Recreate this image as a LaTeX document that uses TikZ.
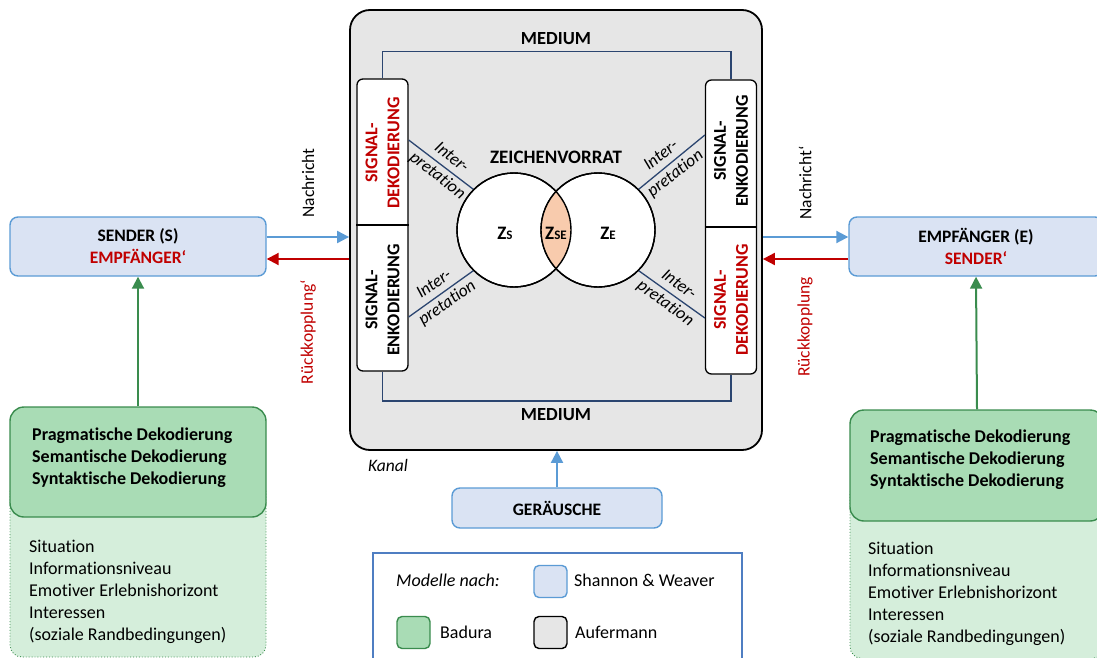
\documentclass[tikz,border=0pt]{standalone}
\usepackage{fontspec}
\setmainfont{Carlito}[Ligatures=NoCommon]
\usetikzlibrary{arrows.meta,calc}
\definecolor{kanalgray}{HTML}{E6E6E6}
\definecolor{navyline}{HTML}{2B4570}
\definecolor{swblue}{HTML}{5B9BD5}
\definecolor{swfill}{HTML}{DAE3F3}
\definecolor{dred}{HTML}{C00000}
\definecolor{bgreen}{HTML}{3A8C4E}
\definecolor{bfill}{HTML}{A9DCB5}
\definecolor{blight}{HTML}{D5EEDB}
\definecolor{peach}{HTML}{F8CBAD}
\definecolor{legblue}{HTML}{4F7EC2}
\tikzset{
  shbox/.style={draw=swblue, fill=swfill, line width=1.4pt, rounded corners=8pt,
    align=center, font=\fontsize{17.5}{22}\selectfont\bfseries, inner sep=0pt},
  bdbox/.style={draw=bgreen, fill=bfill, line width=1.4pt, rounded corners=14pt, inner sep=0pt},
  bdarea/.style={draw=bgreen, fill=blight, line width=0.9pt, dotted, rounded corners=12pt},
  colbox/.style={draw=black, fill=white, line width=1.3pt, rounded corners=6pt, inner sep=0pt,
    minimum width=51pt},
  collabel/.style={rotate=90, align=center, font=\fontsize{18}{22}\selectfont\bfseries, inner sep=0pt},
  interp/.style={align=center, font=\fontsize{17.5}{23}\selectfont\itshape, inner sep=0pt},
  interpline/.style={draw=navyline, line width=1.3pt},
  medline/.style={draw=navyline, line width=1.5pt},
  blueflow/.style={draw=swblue, line width=2pt, -{Triangle[length=12pt,width=12pt]}},
  redflow/.style={draw=dred, line width=2pt, -{Triangle[length=12pt,width=12pt]}},
  greenflow/.style={draw=bgreen, line width=2pt, -{Triangle[length=12pt,width=12pt]}},
  sidelabel/.style={rotate=90, font=\fontsize{17.5}{20}\selectfont, inner sep=0pt},
  swatch/.style={rounded corners=5pt, line width=1.4pt, minimum width=33pt, minimum height=32pt, inner sep=0pt},
  plain/.style={inner sep=0pt, align=left}
}
\begin{document}
\begin{tikzpicture}[x=1pt, y=-1pt, font=\fontsize{18}{22}\selectfont]
\path[use as bounding box] (0,0) rectangle (1097,658);
\clip (0,0) rectangle (1097,658);

% channel
\node[draw=black, fill=kanalgray, line width=1.8pt, rounded corners=20pt,
      minimum width=412pt, minimum height=440pt, inner sep=0pt] (kanal) at (556,230) {};
\node[anchor=west, inner sep=0pt, font=\fontsize{17.5}{20}\selectfont\itshape] (kanallbl) at (368,465) {Kanal};

% coding columns
\node[colbox, minimum height=292pt] (lcol) at (382.5,225) {};
\node[colbox, minimum height=294pt] (rcol) at (731,227) {};
\draw[line width=1.3pt] (lcol.west |- 0,225) -- (lcol.east |- 0,225);
\draw[line width=1.3pt] (rcol.west |- 0,227) -- (rcol.east |- 0,227);
\node[collabel, text=dred] (ldec) at (382.5,153) {SIGNAL-\\DEKODIERUNG};
\node[collabel] (lenc) at (382.5,300) {SIGNAL-\\ENKODIERUNG};
\node[collabel] (renc) at (731,151) {SIGNAL-\\ENKODIERUNG};
\node[collabel, text=dred] (rdec) at (731,300) {SIGNAL-\\DEKODIERUNG};

% medium
\draw[medline] (lcol.north) -- ++(0,-27) -| (rcol.north);
\draw[medline] (lcol.south) -- (lcol.south |- 0,401) -| (rcol.south);
\node[font=\fontsize{18.5}{20}\selectfont\bfseries, inner sep=0pt] (medtop) at (556,39) {MEDIUM};
\node[font=\fontsize{18.5}{20}\selectfont\bfseries, inner sep=0pt] (medbot) at (556,415) {MEDIUM};

% sign repertoire
\node[font=\fontsize{19}{20}\selectfont\bfseries, inner sep=0pt] (vorrat) at (556,157) {ZEICHENVORRAT};
\node[circle, draw=black, fill=white, line width=1.4pt, minimum size=114pt, inner sep=0pt] (zs) at (514,230) {};
\node[circle, draw=black, fill=white, line width=1.4pt, minimum size=114pt, inner sep=0pt] (ze) at (598,230) {};
\begin{scope}
  \clip (514,230) circle (57);
  \fill[peach] (598,230) circle (57);
\end{scope}
\draw[line width=1.4pt] (514,230) circle (57);
\draw[line width=1.4pt] (598,230) circle (57);
\node[inner sep=0pt, font=\bfseries] (zslbl) at (505,233) {{\fontsize{19}{20}\selectfont Z}{\fontsize{13}{14}\selectfont S}};
\node[inner sep=0pt, font=\bfseries] (zselbl) at (556,233) {{\fontsize{19}{20}\selectfont Z}{\fontsize{13}{14}\selectfont SE}};
\node[inner sep=0pt, font=\bfseries] (zelbl) at (608,233) {{\fontsize{19}{20}\selectfont Z}{\fontsize{13}{14}\selectfont E}};

% interpretation links
\draw[interpline] (lcol.east |- 0,140) -- (zs.135) node[interp, pos=0.55, rotate=-38] (i1) {Inter-\\pretation};
\draw[interpline] (rcol.west |- 0,135) -- (ze.45) node[interp, pos=0.55, rotate=38] (i2) {Inter-\\pretation};
\draw[interpline] (lcol.east |- 0,317) -- (zs.225) node[interp, pos=0.5, rotate=35] (i3) {Inter-\\pretation};
\draw[interpline] (rcol.west |- 0,318) -- (ze.-45) node[interp, pos=0.5, rotate=-36] (i4) {Inter-\\pretation};

% sender and receiver
\node[shbox, minimum width=256pt, minimum height=59pt] (sender) at (138,246.5)
  {SENDER (S)\\\textcolor{dred}{EMPFÄNGER‘}};
\node[shbox, minimum width=254pt, minimum height=59pt] (empf) at (976,246.5)
  {EMPFÄNGER (E)\\\textcolor{dred}{SENDER‘}};

\draw[blueflow] (sender.east |- 0,237) -- (kanal.west |- 0,237);
\draw[redflow] (kanal.west |- 0,259) -- (sender.east |- 0,259);
\draw[blueflow] (kanal.east |- 0,237) -- (empf.west |- 0,237);
\draw[redflow] (empf.west |- 0,259) -- (kanal.east |- 0,259);
\node[sidelabel] (nachr) at (308,183) {Nachricht};
\node[sidelabel, text=dred] (rueck1) at (308,332) {Rückkopplung‘};
\node[sidelabel] (nachr2) at (805,183) {Nachricht‘};
\node[sidelabel, text=dred] (rueck2) at (805,327) {Rückkopplung};

% decoding levels (left)
\node[bdarea, minimum width=256pt, minimum height=177pt] (larea) at (138,568.5) {};
\node[bdbox, minimum width=256pt, minimum height=110pt] (lgreen) at (138,462) {};
\node[plain, anchor=north west, font=\fontsize{18}{22}\selectfont\bfseries] (ltext) at (32,428)
  {Pragmatische Dekodierung\\Semantische Dekodierung\\Syntaktische Dekodierung};
\node[plain, anchor=north west] (lcond) at (29,540)
  {Situation\\Informationsniveau\\Emotiver Erlebnishorizont\\Interessen\\(soziale Randbedingungen)};
\draw[greenflow] (lgreen.north) -- (sender.south);

% decoding levels (right)
\node[bdarea, minimum width=254pt, minimum height=177pt] (rarea) at (977,570) {};
\node[bdbox, minimum width=254pt, minimum height=111pt] (rgreen) at (977,465.5) {};
\node[plain, anchor=north west, font=\fontsize{18}{22}\selectfont\bfseries] (rtext) at (870,430)
  {Pragmatische Dekodierung\\Semantische Dekodierung\\Syntaktische Dekodierung};
\node[plain, anchor=north west] (rcond) at (868,542)
  {Situation\\Informationsniveau\\Emotiver Erlebnishorizont\\Interessen\\(soziale Randbedingungen)};
\draw[greenflow] (rgreen.north) -- (empf.south);

% noise
\node[shbox, minimum width=210pt, minimum height=40pt] (noise) at (557,508) {GERÄUSCHE};
\draw[blueflow] (noise.north) -- (noise.north |- kanal.south);

% legend
\node[draw=legblue, fill=white, line width=1.3pt, minimum width=369pt, minimum height=130pt, inner sep=0pt] (legend) at (557.5,618) {};
\node[anchor=west, inner sep=0pt, font=\fontsize{18}{20}\selectfont\itshape] (legtitle) at (396,580) {Modelle nach:};
\node[swatch, draw=swblue, fill=swfill] (sw1) at (550.5,581.5) {};
\node[anchor=west, inner sep=0pt] (sw1lbl) at (574,580) {Shannon \& Weaver};
\node[swatch, draw=bgreen, fill=bfill] (sw2) at (413.5,632.5) {};
\node[anchor=west, inner sep=0pt] (sw2lbl) at (440,632) {Badura};
\node[swatch, draw=black, fill=kanalgray] (sw3) at (550.5,632.5) {};
\node[anchor=west, inner sep=0pt] (sw3lbl) at (575,632) {Aufermann};
\end{tikzpicture}
\end{document}
